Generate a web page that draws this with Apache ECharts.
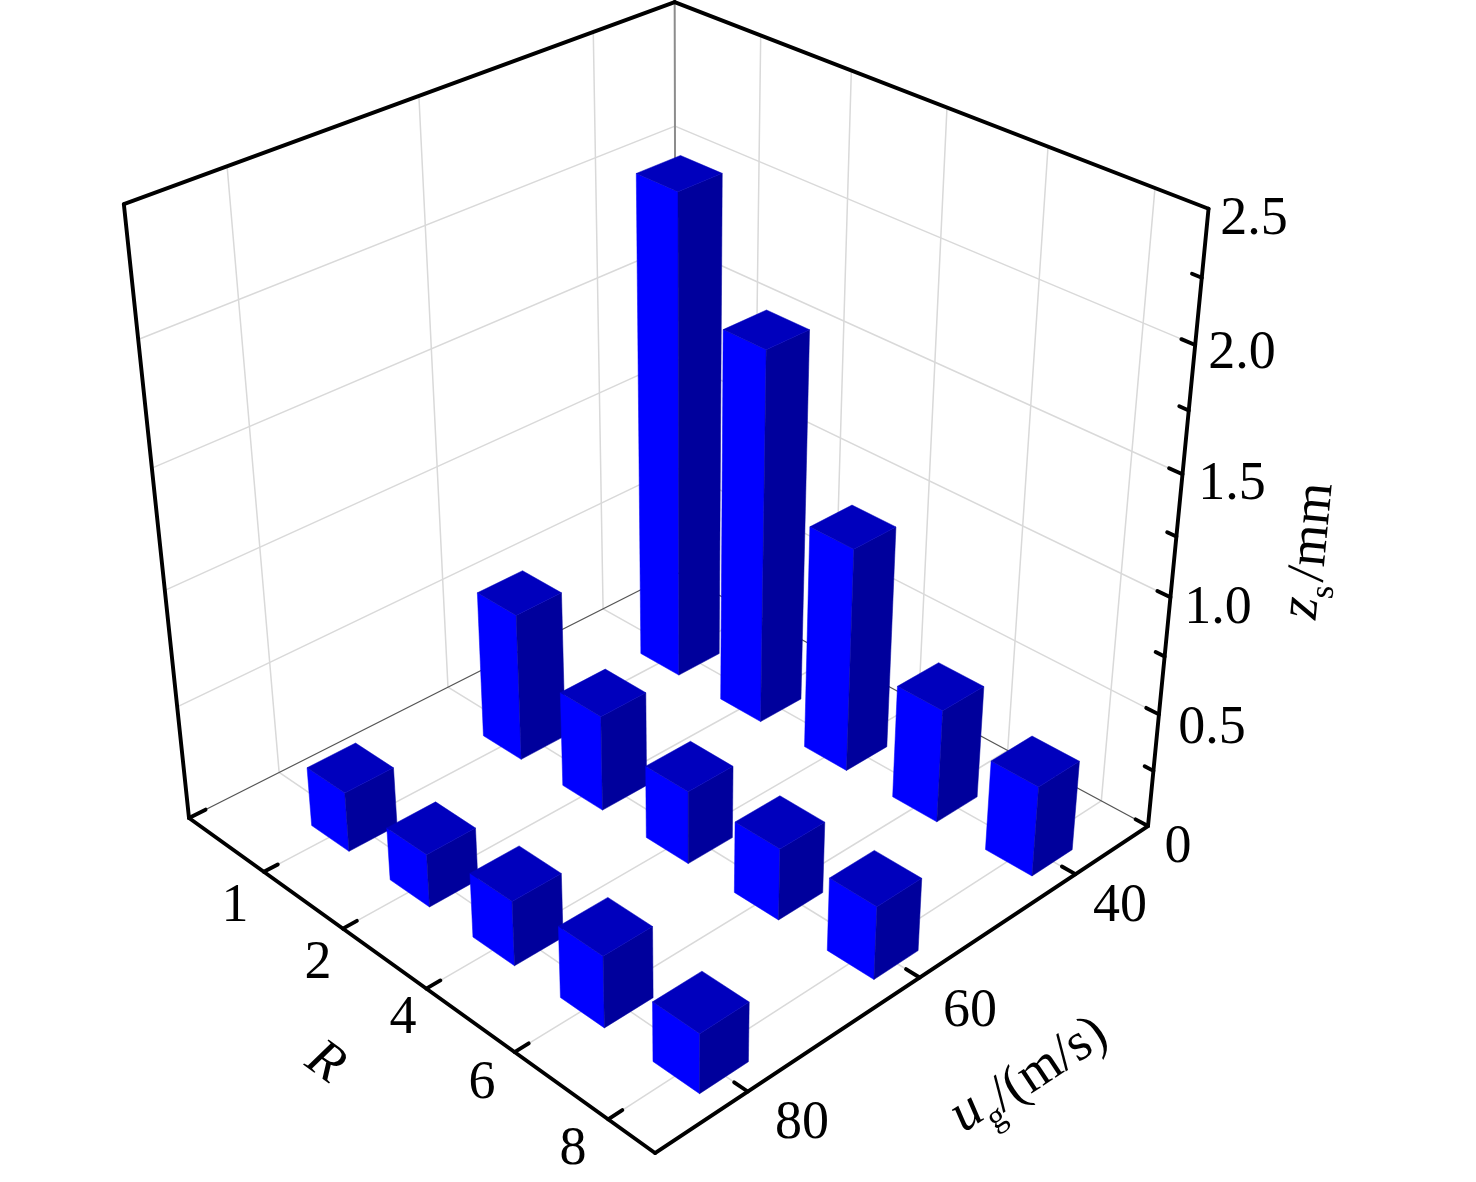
<!DOCTYPE html>
<html><head><meta charset="utf-8">
<style>html,body{margin:0;padding:0;background:#fff}#c{width:1476px;height:1182px}</style>
<script src="https://cdn.jsdelivr.net/npm/echarts@6/dist/echarts.min.js"></script>
</head><body><div id="c"></div>
<script>
// ---- data ----
const R_LABELS = ['1','2','4','6','8'];
const UG_LABELS = ['40','60','80'];
const Z_TICKS = [0,0.5,1,1.5,2,2.5];
const Z_UG40 = [2.09,1.62,0.98,0.497,0.395];
const Z_UG60 = [0.65,0.42,0.32,0.312,0.316];
const Z_UG80 = [0.262,0.232,0.28,0.308,0.255];

// ---- projection of the 3D box on the page ----
const B=[676,572],Rt=[1148,826],F=[655,1153],L=[189,818];
const Bt=[675,2],Rtt=[1207,208],Lt=[125,203];
const ZMAX=2.5;
const dx1=Rt[0]-F[0],dx2=L[0]-F[0],sx=B[0]-Rt[0]+F[0]-L[0];
const dy1=Rt[1]-F[1],dy2=L[1]-F[1],sy=B[1]-Rt[1]+F[1]-L[1];
const den=dx1*dy2-dx2*dy1;
const G=(sx*dy2-dx2*sy)/den,H=(dx1*sy-sx*dy1)/den;
const A=Rt[0]-B[0]+G*Rt[0],Bb=L[0]-B[0]+H*L[0],C=B[0];
const D=Rt[1]-B[1]+G*Rt[1],E=L[1]-B[1]+H*L[1],Ff=B[1];
// least-squares fit of the vertical column of the camera from three top corners
function fitColumn(){
  const rows=[],rhs=[];
  [[0,1,L,Lt],[1,0,Rt,Rtt],[0,0,B,Bt]].forEach(([r,g,b,t])=>{
    const w=G*r+H*g+1;
    rows.push([1,0,-t[0]]);rhs.push(w*(t[0]-b[0]));
    rows.push([0,1,-t[1]]);rhs.push(w*(t[1]-b[1]));
  });
  const N=[[0,0,0,0],[0,0,0,0],[0,0,0,0]];
  rows.forEach((a,k)=>{for(let i=0;i<3;i++){for(let j=0;j<3;j++)N[i][j]+=a[i]*a[j];N[i][3]+=a[i]*rhs[k];}});
  for(let i=0;i<3;i++){
    let p=i;for(let j=i+1;j<3;j++)if(Math.abs(N[j][i])>Math.abs(N[p][i]))p=j;
    [N[i],N[p]]=[N[p],N[i]];
    for(let j=0;j<3;j++){if(j!==i){const f=N[j][i]/N[i][i];for(let c=i;c<4;c++)N[j][c]-=f*N[i][c];}}
  }
  return [N[0][3]/N[0][0],N[1][3]/N[1][1],N[2][3]/N[2][2]];
}
const PZ=fitColumn();
function project(r,g,z){
  const q=z/ZMAX, W=G*r+H*g+1+PZ[2]*q;
  // small residual correction of the fit, growing with height
  const dy=q*(4.5-10.5*(1-r)*(1-g));
  return [(A*r+Bb*g+C+PZ[0]*q)/W,(D*r+E*g+Ff+PZ[1]*q)/W+dy];
}
const rPos=i=>(i+1)/5.48;
const gPos=i=>(i+0.5)/UG_LABELS.length;
const HALF_R=0.044,HALF_G=0.045,BAR_SHIFT=0.003;

const barRows=[];
[Z_UG40,Z_UG60,Z_UG80].forEach((row,g)=>row.forEach((v,r)=>barRows.push([r,g,v])));

function renderBar(params,api){
  const r=rPos(api.value(0))+BAR_SHIFT,g=gPos(api.value(1))+BAR_SHIFT,z=api.value(2);
  const c=(a,b,h)=>api.coord(project(r+a*HALF_R,g+b*HALF_G,h));
  const poly=(pts,fill)=>({type:'polygon',shape:{points:pts},style:{fill:fill,stroke:fill,lineWidth:0.5}});
  return {type:'group',children:[
    poly([c(-1,1,0),c(1,1,0),c(1,1,z),c(-1,1,z)],'#0000ff'),
    poly([c(1,1,0),c(1,-1,0),c(1,-1,z),c(1,1,z)],'#00009c'),
    poly([c(-1,-1,z),c(1,-1,z),c(1,1,z),c(-1,1,z)],'#0000bd')
  ]};
}
function renderFrame(params,api){
  const kids=[];
  const seg=(a,b,color,w)=>{const p=api.coord(project(...a)),q=api.coord(project(...b));
    kids.push({type:'line',shape:{x1:p[0],y1:p[1],x2:q[0],y2:q[1]},style:{stroke:color,lineWidth:w,lineCap:'round'}});};
  const GRID='#d9d9d9',GW=1.5;
  R_LABELS.forEach((_,i)=>{const r=rPos(i);
    seg([r,0,0],[r,1,0],GRID,GW);seg([r,0,0],[r,0,ZMAX],GRID,GW);});
  UG_LABELS.forEach((_,i)=>{const g=gPos(i);
    seg([0,g,0],[1,g,0],GRID,GW);seg([0,g,0],[0,g,ZMAX],GRID,GW);});
  Z_TICKS.slice(1,-1).forEach(z=>{seg([0,0,z],[1,0,z],GRID,GW);seg([0,0,z],[0,1,z],GRID,GW);});
  seg([0,0,0],[0,0,ZMAX],'#8c8c8c',2);
  seg([0,0,0],[0,1,0],'#555',1.3);
  seg([0,0,0],[1,0,0],'#555',1.3);
  const BK='#000',BW=3.9;
  seg([0,1,0],[1,1,0],BK,BW);seg([1,1,0],[1,0,0],BK,BW);
  seg([0,1,0],[0,1,ZMAX],BK,BW);seg([0,1,ZMAX],[0,0,ZMAX],BK,BW);
  seg([0,0,ZMAX],[1,0,ZMAX],BK,BW);seg([1,0,ZMAX],[1,0,0],BK,BW);
  R_LABELS.forEach((_,i)=>seg([rPos(i),1,0],[rPos(i),0.975,0],BK,BW));
  UG_LABELS.forEach((_,i)=>seg([1,gPos(i),0],[0.975,gPos(i),0],BK,BW));
  seg([0,1,0],[0,0.97,0],BK,BW);
  for(let i=0;i<Z_TICKS.length-1;i++){
    const z=Z_TICKS[i];
    seg([1,0,z],[0.977,0,z],BK,BW);
    seg([1,0,z+0.25],[0.984,0,z+0.25],BK,BW);
  }
  return {type:'group',children:kids};
}
const SERIF='"Liberation Serif","Times New Roman",serif';
const TICK_LAYOUT=[
 ['2.5',1254,220],['2.0',1242,354],['1.5',1232,485],['1.0',1218,609],['0.5',1212,729],['0',1178,848],
 [R_LABELS[0],235,907],[R_LABELS[1],318,964],[R_LABELS[2],403,1019],[R_LABELS[3],482,1084],[R_LABELS[4],573,1150],
 [UG_LABELS[0],1120,907],[UG_LABELS[1],970,1012],[UG_LABELS[2],802,1124]];
const TITLE_LAYOUT=[
 ['z','italic 56px ',1302,608,84.5],['s','34px ',1324,592,84.5],['/mm','54px ',1313,532,84.5],
 ['u','italic 56px ',967,1113,33.5],['g','34px ',997,1118,33.5],['/(m/s)','54px ',1049,1065,33.5],
 ['R','italic 54px ',325,1063,-36]];
const deg=a=>a*Math.PI/180;
function renderText(params,api){
  const kids=TICK_LAYOUT.map(t=>{const p=api.coord([t[1],t[2]]);
    return {type:'text',x:p[0],y:p[1],style:{text:t[0],font:'54px '+SERIF,fill:'#000',align:'center',verticalAlign:'middle'}};});
  TITLE_LAYOUT.forEach(t=>{const p=api.coord([t[2],t[3]]);
    kids.push({type:'text',x:p[0],y:p[1],rotation:deg(t[4]),style:{text:t[0],font:t[1]+SERIF,fill:'#000',align:'center',verticalAlign:'middle'}});});
  return {type:'group',children:kids};
}
const chart=echarts.init(document.getElementById('c'),null,{renderer:'canvas'});
chart.setOption({
  animation:false,backgroundColor:'#fff',
  grid:{left:0,right:0,top:0,bottom:0},
  xAxis:{type:'value',min:0,max:1476,show:false},
  yAxis:{type:'value',min:0,max:1182,inverse:true,show:false},
  series:[
    {type:'custom',coordinateSystem:'cartesian2d',silent:true,clip:false,data:[[0,0]],renderItem:renderFrame,z:1},
    {type:'custom',coordinateSystem:'cartesian2d',silent:true,clip:false,data:barRows,renderItem:renderBar,z:2,encode:{x:0,y:1}},
    {type:'custom',coordinateSystem:'cartesian2d',silent:true,clip:false,data:[[0,0]],renderItem:renderText,z:3}
  ]
});
</script></body></html>
